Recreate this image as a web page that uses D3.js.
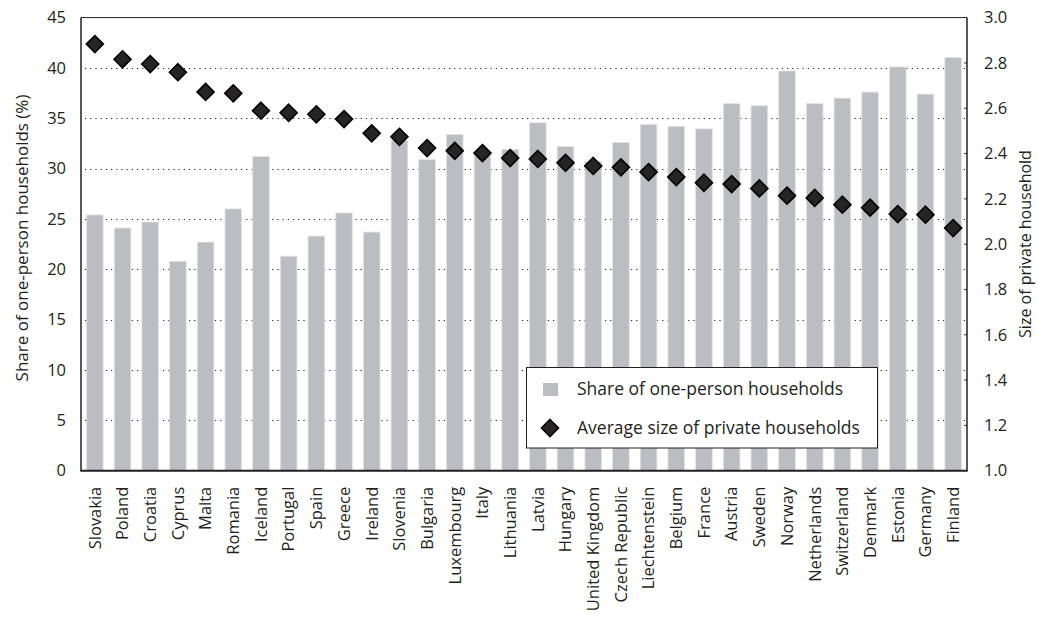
<!DOCTYPE html>
<html>
<head>
<meta charset="utf-8">
<script src="https://cdn.jsdelivr.net/npm/d3@7"></script>
<style>
  html, body { margin: 0; padding: 0; background: #fff; }
  svg { display: block; }
  text { font-family: "Open Sans", "Noto Sans", sans-serif; fill: #231f20; }
</style>
</head>
<body>
<svg id="chart" width="1037" height="618"></svg>
<script>
const countries = ["Slovakia","Poland","Croatia","Cyprus","Malta","Romania","Iceland","Portugal","Spain","Greece","Ireland","Slovenia","Bulgaria","Luxembourg","Italy","Lithuania","Latvia","Hungary","United Kingdom","Czech Republic","Liechtenstein","Belgium","France","Austria","Sweden","Norway","Netherlands","Switzerland","Denmark","Estonia","Germany","Finland"];
const shareOnePerson = [25.4,24.1,24.7,20.8,22.7,26.0,31.2,21.3,23.3,25.6,23.7,32.8,30.9,33.4,31.3,31.9,34.55,32.2,30.7,32.6,34.4,34.2,33.95,36.45,36.25,39.7,36.45,37.0,37.6,40.1,37.4,41.05];
const avgSize = [2.883,2.816,2.795,2.759,2.672,2.666,2.589,2.580,2.573,2.552,2.489,2.474,2.424,2.412,2.402,2.380,2.376,2.359,2.345,2.339,2.318,2.296,2.271,2.265,2.246,2.214,2.204,2.174,2.161,2.133,2.130,2.071];
const leftTicks = [0,5,10,15,20,25,30,35,40,45];
const rightTicks = [1.0,1.2,1.4,1.6,1.8,2.0,2.2,2.4,2.6,2.8,3.0];
const leftTitle = "Share of one-person households (%)";
const rightTitle = "Size of private household";
const legendLabels = ["Share of one-person households", "Average size of private households"];

const svg = d3.select("#chart");
const L = 81, R = 967, T = 17.6, B = 470.7;

const x = d3.scaleBand().domain(countries).range([L, R]).paddingInner(0.4).paddingOuter(0.2);
const yL = d3.scaleLinear().domain([0, 45]).range([B, T]);
const yR = d3.scaleLinear().domain([1.0, 3.0]).range([B, T]);

// gridlines
svg.append("g").selectAll("line").data(leftTicks.filter(d => d > 0 && d < 45)).join("line")
  .attr("x1", L + 4).attr("x2", R - 1)
  .attr("y1", d => Math.round(yL(d)) + 0.5).attr("y2", d => Math.round(yL(d)) + 0.5)
  .attr("stroke", "#222").attr("stroke-width", 1).attr("stroke-dasharray", "1.2,4");

// bars
svg.append("g").selectAll("rect").data(countries).join("rect")
  .attr("x", d => x(d)).attr("width", x.bandwidth())
  .attr("y", (d, i) => yL(shareOnePerson[i]))
  .attr("height", (d, i) => B - yL(shareOnePerson[i]))
  .attr("fill", "#bcbdc0").attr("stroke", "#e4e4e6").attr("stroke-width", 0.8);

// right axis inner ticks
svg.append("g").selectAll("line").data(rightTicks.slice(1, -1)).join("line")
  .attr("x1", R - 3).attr("x2", R)
  .attr("y1", d => yR(d)).attr("y2", d => yR(d))
  .attr("stroke", "#333").attr("stroke-width", 1);

// frame
svg.append("line").attr("x1", L).attr("x2", L).attr("y1", T).attr("y2", B).attr("stroke", "#231f20").attr("stroke-width", 1.5);
svg.append("line").attr("x1", R).attr("x2", R).attr("y1", T).attr("y2", B).attr("stroke", "#231f20").attr("stroke-width", 1.5);
svg.append("line").attr("x1", L).attr("x2", R).attr("y1", T).attr("y2", T).attr("stroke", "#231f20").attr("stroke-width", 1);
svg.append("line").attr("x1", L - 0.75).attr("x2", R + 0.75).attr("y1", B).attr("y2", B).attr("stroke", "#231f20").attr("stroke-width", 2);

// diamonds
const diamond = "M0,-8.5L8.5,0L0,8.5L-8.5,0Z";
svg.append("g").selectAll("path").data(countries).join("path")
  .attr("d", diamond)
  .attr("transform", (d, i) => `translate(${x(d) + x.bandwidth() / 2},${yR(avgSize[i])})`)
  .attr("fill", "#262425").attr("stroke", "#000").attr("stroke-width", 1.6);

// left tick labels
svg.append("g").selectAll("text").data(leftTicks).join("text")
  .attr("x", 66).attr("y", d => yL(d)).attr("dy", "0.35em")
  .attr("text-anchor", "end").attr("font-size", 16.5).text(d => d);

// right tick labels
svg.append("g").selectAll("text").data(rightTicks).join("text")
  .attr("x", 984).attr("y", d => yR(d)).attr("dy", "0.35em")
  .attr("text-anchor", "start").attr("font-size", 16.5).text(d => d.toFixed(1));

// x labels
svg.append("g").selectAll("text").data(countries).join("text")
  .attr("transform", d => `translate(${x(d) + x.bandwidth() / 2},${B + 16}) rotate(-90)`)
  .attr("dy", "0.35em").attr("text-anchor", "end").attr("font-size", 16.5).text(d => d);

// axis titles
svg.append("text").attr("transform", `translate(28,238) rotate(-90)`)
  .attr("text-anchor", "middle").attr("font-size", 17).text(leftTitle);
svg.append("text").attr("transform", `translate(1031,244) rotate(-90)`)
  .attr("text-anchor", "middle").attr("font-size", 16).text(rightTitle);

// legend
const lg = svg.append("g");
lg.append("rect").attr("x", 526.5).attr("y", 367.5).attr("width", 351).attr("height", 80.5)
  .attr("fill", "#fff").attr("stroke", "#231f20").attr("stroke-width", 1);
lg.append("rect").attr("x", 543).attr("y", 383).attr("width", 15).attr("height", 13).attr("fill", "#bcbdc0");
lg.append("path").attr("d", diamond).attr("transform", "translate(550,428)")
  .attr("fill", "#262425").attr("stroke", "#000").attr("stroke-width", 1.6);
lg.append("text").attr("x", 577).attr("y", 395).attr("font-size", 17.5).text(legendLabels[0]);
lg.append("text").attr("x", 577).attr("y", 434).attr("font-size", 17.5).text(legendLabels[1]);
</script>
</body>
</html>
